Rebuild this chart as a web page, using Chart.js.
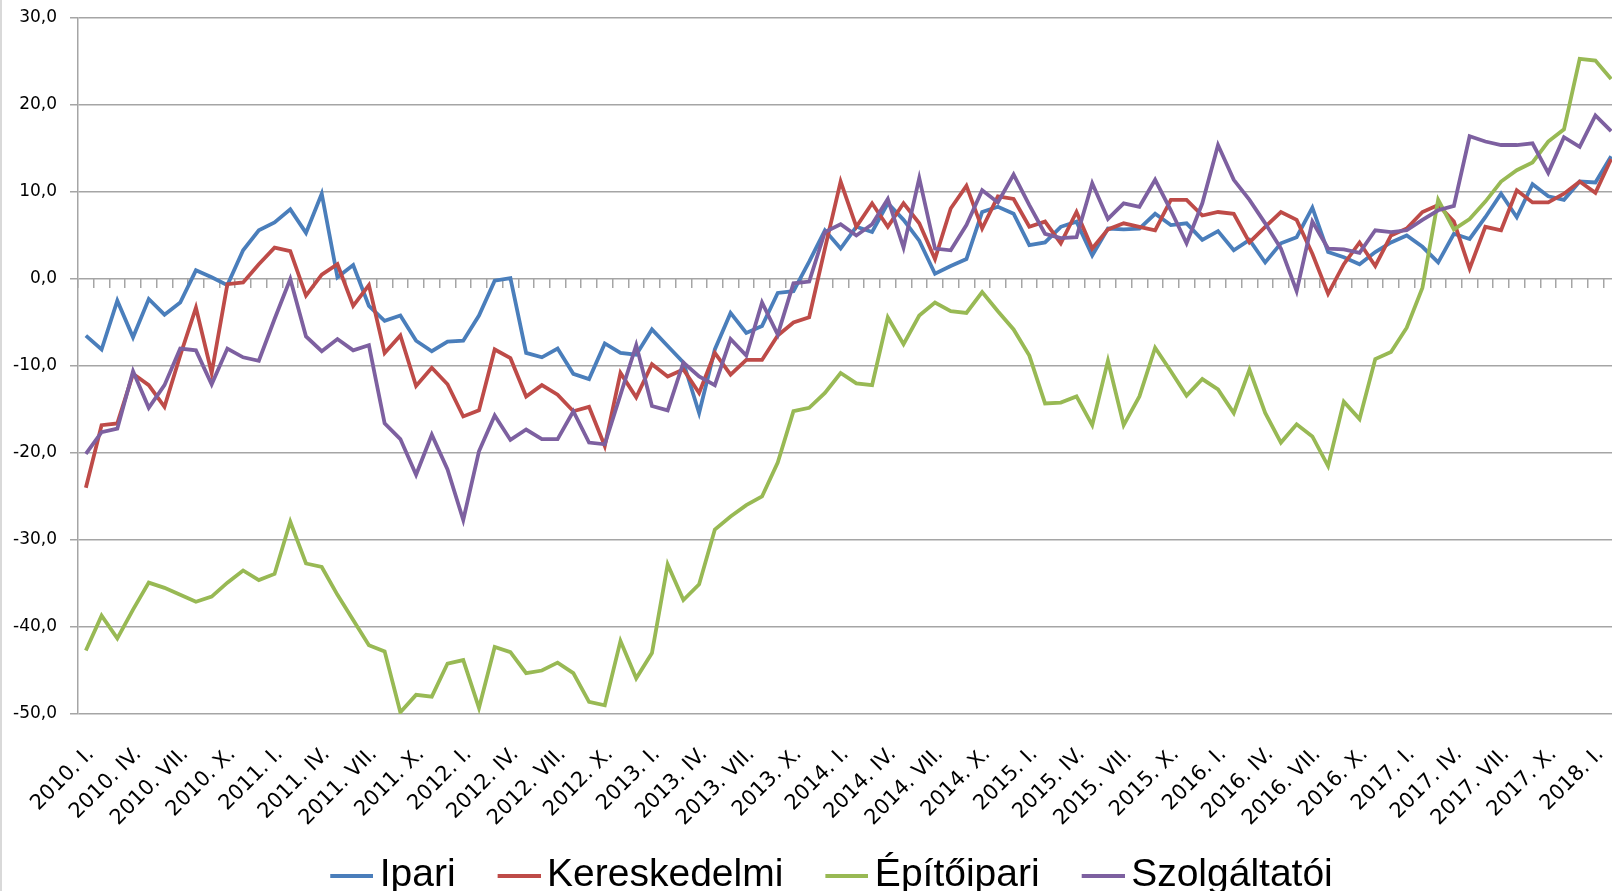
<!DOCTYPE html>
<html>
<head>
<meta charset="utf-8">
<script src="https://cdn.jsdelivr.net/npm/chart.js"></script>
<style>
  html, body { margin: 0; padding: 0; background: #fff; overflow: hidden; }
  #wrap { position: absolute; left: 0; top: 0; width: 1622px; height: 905px; }
  #edge { position: absolute; left: 0; top: 0; width: 2px; height: 891px; background: #d9d9d9; }
</style>
</head>
<body>
<div id="wrap"><canvas id="chartCanvas"></canvas></div>
<div id="edge"></div>
<script>
// havi adatok, 2010. I. - 2018. II.
const years = [2010, 2011, 2012, 2013, 2014, 2015, 2016, 2017, 2018];
const romanMonths = ["I", "II", "III", "IV", "V", "VI", "VII", "VIII", "IX", "X", "XI", "XII"];
const monthCount = 98;

const ipari = [
  -6.5, -8.1, -2.5, -6.7, -2.3, -4.1, -2.7, 1.0, 0.2, -0.7, 3.3, 5.6,
  6.5, 8.0, 5.3, 9.8, 0.2, 1.6, -3.1, -4.8, -4.2, -7.1, -8.3, -7.2,
  -7.1, -4.2, -0.2, 0.1, -8.5, -9.0, -8.0, -10.9, -11.5, -7.4, -8.5, -8.7,
  -5.8, -7.7, -9.6, -15.4, -8.1, -3.9, -6.2, -5.4, -1.6, -1.4, 2.0, 5.6,
  3.5, 6.0, 5.4, 8.7, 6.8, 4.4, 0.6, 1.5, 2.3, 7.7, 8.3, 7.5,
  3.9, 4.2, 6.0, 6.6, 2.7, 5.8, 5.7, 5.8, 7.5, 6.2, 6.4, 4.5,
  5.5, 3.3, 4.5, 1.9, 4.1, 4.8, 8.2, 3.1, 2.5, 1.7, 3.1, 4.2,
  5.0, 3.7, 1.9, 5.2, 4.6, 7.1, 9.8, 7.1, 10.9, 9.5, 9.1, 11.2,
  11.1, 14.1
];
const kereskedelmi = [
  -24.0, -16.8, -16.6, -10.9, -12.2, -14.7, -8.8, -3.3, -10.8, -0.6, -0.4, 1.7,
  3.6, 3.2, -1.9, 0.5, 1.7, -3.1, -0.7, -8.5, -6.5, -12.3, -10.2, -12.1,
  -15.8, -15.1, -8.1, -9.1, -13.5, -12.2, -13.3, -15.2, -14.7, -19.2, -10.8, -13.6,
  -9.8, -11.2, -10.4, -13.1, -8.5, -11.0, -9.3, -9.3, -6.5, -5.0, -4.4, 3.5,
  11.2, 6.0, 8.7, 6.0, 8.7, 6.4, 2.3, 8.1, 10.7, 5.8, 9.5, 9.2,
  6.0, 6.6, 4.1, 7.7, 3.5, 5.7, 6.4, 6.0, 5.6, 9.1, 9.1, 7.3,
  7.7, 7.5, 4.2, 6.0, 7.7, 6.8, 2.9, -1.7, 1.7, 4.2, 1.5, 5.0,
  5.8, 7.7, 8.5, 6.6, 1.2, 6.0, 5.6, 10.2, 8.8, 8.8, 9.8, 11.2,
  9.9, 13.8
];
const epitoipari = [
  -42.7, -38.7, -41.3, -38.0, -34.9, -35.5, -36.3, -37.1, -36.5, -34.9, -33.5, -34.6,
  -33.9, -27.9, -32.7, -33.1, -36.3, -39.2, -42.1, -42.8, -49.8, -47.8, -48.0, -44.2,
  -43.8, -49.3, -42.3, -42.9, -45.3, -45.0, -44.1, -45.3, -48.6, -49.0, -41.6, -45.9,
  -43.0, -32.8, -36.9, -35.1, -28.8, -27.3, -26.0, -25.0, -21.1, -15.2, -14.8, -13.1,
  -10.8, -12.0, -12.2, -4.4, -7.5, -4.2, -2.7, -3.7, -3.9, -1.5, -3.7, -5.8,
  -8.8, -14.3, -14.2, -13.5, -16.8, -9.4, -16.8, -13.5, -7.9, -10.6, -13.4, -11.5,
  -12.7, -15.4, -10.4, -15.4, -18.8, -16.7, -18.1, -21.5, -14.1, -16.1, -9.2, -8.4,
  -5.6, -1.0, 9.1, 5.7, 6.9, 8.9, 11.2, 12.5, 13.4, 15.8, 17.2, 25.3,
  25.1, 23.0
];
const szolgaltatoi = [
  -20.1, -17.6, -17.2, -10.6, -14.8, -12.2, -8.0, -8.2, -12.1, -8.0, -9.0, -9.4,
  -4.6, 0.0, -6.6, -8.3, -6.9, -8.2, -7.6, -16.6, -18.4, -22.5, -17.9, -21.9,
  -27.7, -19.8, -15.7, -18.5, -17.3, -18.4, -18.4, -15.2, -18.8, -19.0, -13.3, -7.6,
  -14.6, -15.1, -9.6, -11.2, -12.2, -6.9, -8.8, -2.7, -6.4, -0.5, -0.3, 5.4,
  6.3, 5.0, 6.3, 9.2, 3.6, 11.6, 3.5, 3.3, 6.2, 10.2, 8.8, 12.0,
  8.5, 5.2, 4.7, 4.8, 11.0, 6.9, 8.7, 8.3, 11.4, 7.9, 4.1, 8.7,
  15.4, 11.4, 9.1, 6.4, 3.5, -1.4, 6.6, 3.5, 3.4, 3.0, 5.6, 5.4,
  5.6, 6.8, 7.9, 8.4, 16.4, 15.8, 15.4, 15.4, 15.6, 12.2, 16.3, 15.2,
  18.8, 17.0
];

let labels = [];
for (let y of years) {
  for (let m of romanMonths) {
    if (labels.length < monthCount) labels.push(y + ". " + m + ".");
  }
}

const gridColor = "#a5a5a5";
const colors = {
  ipari: "#4a7ebb",
  kereskedelmi: "#be4b48",
  epito: "#98b954",
  szolg: "#7d60a0"
};

// vonal a jelmagyarazathoz (a kep jobb szelen)
function legendLine(color) {
  let c = document.createElement("canvas");
  c.width = 88;
  c.height = 4;
  let g = c.getContext("2d");
  g.fillStyle = color;
  g.fillRect(45, 0, 43, 4);
  return c;
}

function makeSet(label, data, color, order) {
  return {
    label: label,
    data: data,
    borderColor: color,
    backgroundColor: color,
    borderWidth: 3.8,
    pointRadius: 0,
    pointHoverRadius: 0,
    tension: 0,
    fill: false,
    order: order
  };
}

function noPadding(scale) {
  scale.paddingLeft = 0;
  scale.paddingRight = 0;
  scale.paddingTop = 0;
  scale.paddingBottom = 0;
}

let ctx = document.getElementById("chartCanvas");

let chart = new Chart(ctx, {
  type: "line",
  data: {
    labels: labels,
    datasets: [
      makeSet("Ipari", ipari, colors.ipari, 4),
      makeSet("Kereskedelmi", kereskedelmi, colors.kereskedelmi, 3),
      makeSet("Építőipari", epitoipari, colors.epito, 2),
      makeSet("Szolgáltatói", szolgaltatoi, colors.szolg, 1)
    ]
  },
  options: {
    responsive: true,
    maintainAspectRatio: false,
    animation: false,
    events: [],
    layout: { padding: { left: 12, right: 3, top: 18, bottom: 0 } },
    plugins: {
      tooltip: { enabled: false },
      legend: {
        position: "bottom",
        labels: {
          font: { family: "'Liberation Sans', Arial, sans-serif", size: 39 },
          color: "#000",
          usePointStyle: true,
          pointStyleWidth: 62,
          padding: 10,
          sort: (a, b) => a.datasetIndex - b.datasetIndex,
          generateLabels: (chart) =>
            Chart.defaults.plugins.legend.labels.generateLabels(chart).map(l => ({
              ...l,
              pointStyle: legendLine(l.strokeStyle),
              lineWidth: 0
            }))
        }
      }
    },
    scales: {
      x: {
        type: "category",
        position: "bottom",
        offset: true,
        grid: { display: false, drawTicks: false, offset: true },
        border: { display: false },
        ticks: {
          autoSkip: false,
          maxRotation: 45,
          minRotation: 45,
          padding: 28,
          labelOffset: 5,
          color: "#000",
          font: { family: "'DejaVu Sans', sans-serif", size: 21 },
          callback: function (value, index) {
            return index % 3 === 0 ? this.getLabelForValue(value) : "";
          }
        },
        afterFit: (scale) => { scale.height = 132; noPadding(scale); }
      },
      x0: {
        type: "category",
        axis: "x",
        position: { y: 0 },
        offset: true,
        ticks: { display: false },
        grid: {
          offset: true,
          drawOnChartArea: false,
          drawTicks: true,
          tickLength: 9,
          color: gridColor,
          lineWidth: 1.5
        },
        border: { display: false },
        afterFit: noPadding
      },
      y: {
        min: -50,
        max: 30,
        ticks: {
          stepSize: 10,
          padding: 13,
          color: "#000",
          font: { family: "'DejaVu Sans', sans-serif", size: 17 },
          callback: (v) => v.toFixed(1).replace(".", ",")
        },
        grid: { color: gridColor, lineWidth: 1.5, tickLength: 8 },
        border: { color: gridColor, width: 1.5 },
        afterFit: (scale) => { scale.width = 66; noPadding(scale); }
      }
    }
  }
});
</script>
</body>
</html>
